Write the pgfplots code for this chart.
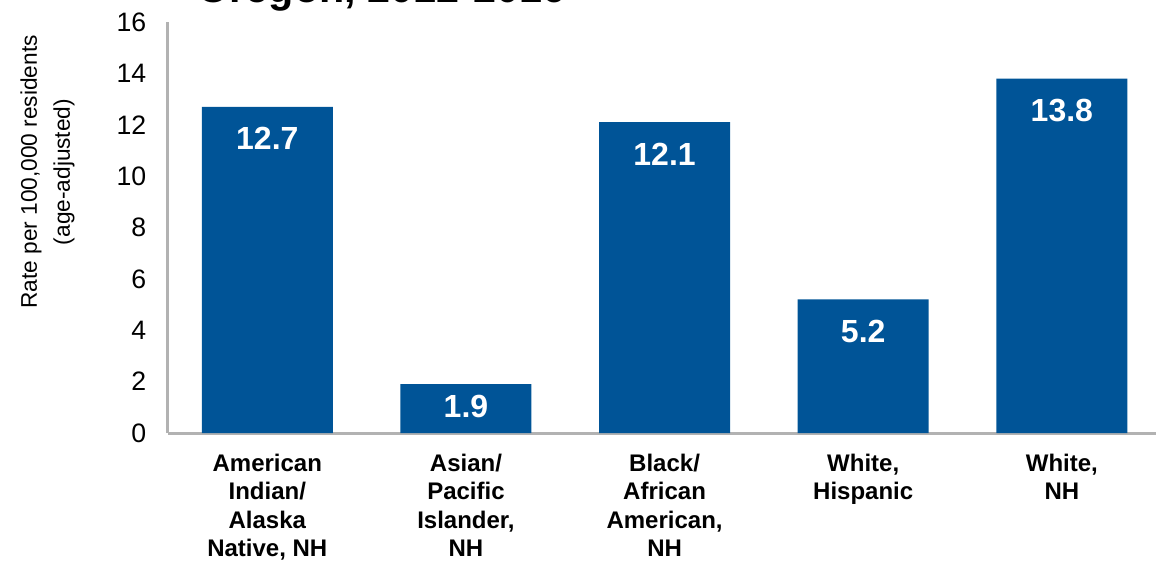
\documentclass[border=0pt]{standalone}
\usepackage{pgfplots}
\pgfplotsset{compat=1.18}
\usepackage{fontspec}
\setmainfont{Liberation Sans}
\definecolor{barblue}{RGB}{0,84,151}
\definecolor{axisgray}{RGB}{178,178,178}
\begin{document}
\begin{tikzpicture}
\useasboundingbox (-126pt,-98.25pt) rectangle (741pt,324.75pt);
\begin{axis}[
  at={(0,0)}, anchor=south west,
  scale only axis, width=741pt, height=308.25pt,
  xmin=-0.5, xmax=4.474, ymin=0, ymax=16,
  axis x line*=bottom, axis y line*=left,
  axis line style={line width=2.25pt, color=axisgray},
  ytick={0,2,...,16}, xtick={0,1,2,3,4},
  major tick length=0pt,
  xticklabels={{American\\Indian/\\Alaska\\Native, NH},{Asian/\\Pacific\\Islander,\\NH},{Black/\\African\\American,\\NH},{White,\\Hispanic},{White,\\NH}},
  /pgf/number format/assume math mode=true,
  yticklabel style={font=\fontsize{20}{24}\selectfont, xshift=-12.8pt},
  xticklabel style={font=\bfseries\fontsize{18}{21.4}\selectfont, align=center, yshift=-12pt},
  clip=false,
]
\addplot[ybar, bar width=98.25pt, fill=barblue, draw=none] coordinates {(0,12.7)(1,1.9)(2,12.1)(3,5.2)(4,13.8)};
\addplot[draw=none, mark=none, nodes near coords,
  every node near coord/.append style={anchor=center, yshift=-24pt, text=white, font=\bfseries\fontsize{24}{28}\selectfont}]
  coordinates {(0,12.7)(2,12.1)(3,5.2)(4,13.8)};
\addplot[draw=none, mark=none, nodes near coords,
  every node near coord/.append style={anchor=center, yshift=-16.5pt, text=white, font=\bfseries\fontsize{24}{28}\selectfont}]
  coordinates {(1,1.9)};
\end{axis}
\node[anchor=base west, font=\bfseries\fontsize{31}{36}\selectfont] at (18.75pt,322.5pt) {Oregon, 2012-2016};
\node[rotate=90, align=center, font=\fontsize{17}{24.75}\selectfont] at (-90.4pt,195.75pt) {Rate per 100,000 residents\\(age-adjusted)};
\end{tikzpicture}
\end{document}
